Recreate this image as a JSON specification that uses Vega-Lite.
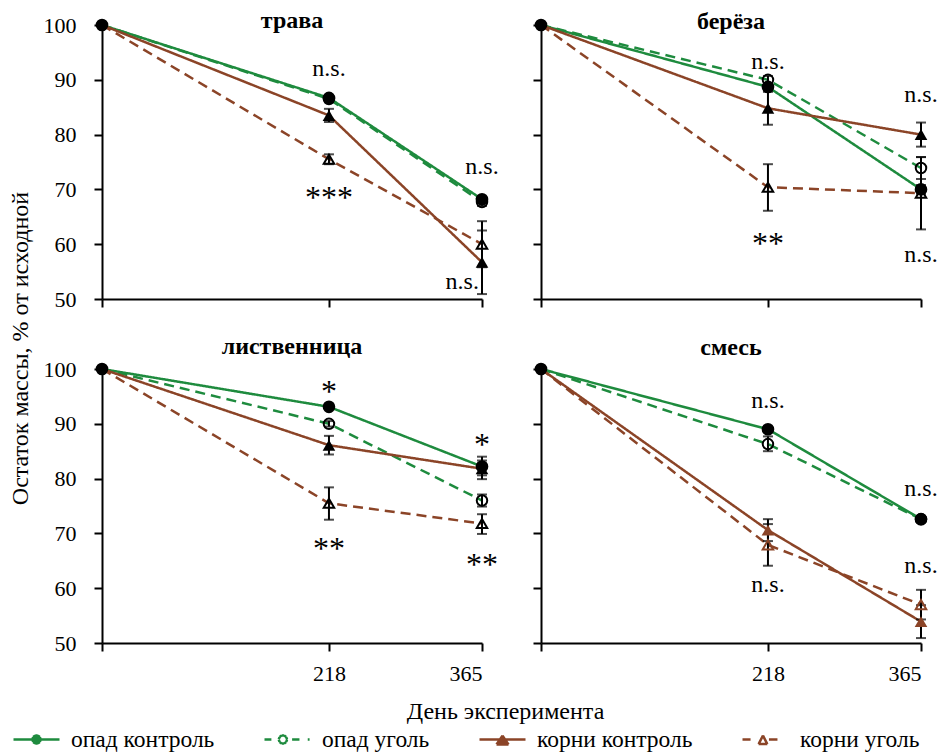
{
  "$schema": "https://vega.github.io/schema/vega-lite/v6.json",
  "autosize": {"type": "none"},
  "padding": {"left": 102, "top": 25, "right": 839, "bottom": 728},
  "background": "white",
  "bounds": "flush",
  "columns": 2,
  "spacing": {"row": 70, "column": 59},
  "datasets": {
    "series": [
      {"panel": "трава", "series": "опад контроль", "day": 0, "value": 100, "lo": null, "hi": null},
      {"panel": "трава", "series": "опад контроль", "day": 218, "value": 86.7, "lo": 86.4, "hi": 87.0},
      {"panel": "трава", "series": "опад контроль", "day": 365, "value": 68.2, "lo": 67.8, "hi": 68.6},
      {"panel": "трава", "series": "опад уголь", "day": 0, "value": 100, "lo": null, "hi": null},
      {"panel": "трава", "series": "опад уголь", "day": 218, "value": 86.5, "lo": 86.1, "hi": 86.9},
      {"panel": "трава", "series": "опад уголь", "day": 365, "value": 67.7, "lo": 67.0, "hi": 68.5},
      {"panel": "трава", "series": "корни контроль", "day": 0, "value": 100, "lo": null, "hi": null},
      {"panel": "трава", "series": "корни контроль", "day": 218, "value": 83.5, "lo": 82.3, "hi": 84.7},
      {"panel": "трава", "series": "корни контроль", "day": 365, "value": 56.7, "lo": 50.9, "hi": 62.5},
      {"panel": "трава", "series": "корни уголь", "day": 0, "value": 100, "lo": null, "hi": null},
      {"panel": "трава", "series": "корни уголь", "day": 218, "value": 75.5, "lo": 74.6, "hi": 76.4},
      {"panel": "трава", "series": "корни уголь", "day": 365, "value": 60.0, "lo": 55.8, "hi": 64.2},

      {"panel": "берёза", "series": "опад контроль", "day": 0, "value": 100, "lo": null, "hi": null},
      {"panel": "берёза", "series": "опад контроль", "day": 218, "value": 88.7, "lo": 88.2, "hi": 89.2},
      {"panel": "берёза", "series": "опад контроль", "day": 365, "value": 70.0, "lo": 69.2, "hi": 70.8},
      {"panel": "берёза", "series": "опад уголь", "day": 0, "value": 100, "lo": null, "hi": null},
      {"panel": "берёза", "series": "опад уголь", "day": 218, "value": 90.0, "lo": 89.3, "hi": 90.7},
      {"panel": "берёза", "series": "опад уголь", "day": 365, "value": 73.9, "lo": 71.9, "hi": 75.9},
      {"panel": "берёза", "series": "корни контроль", "day": 0, "value": 100, "lo": null, "hi": null},
      {"panel": "берёза", "series": "корни контроль", "day": 218, "value": 84.8, "lo": 81.8, "hi": 87.8},
      {"panel": "берёза", "series": "корни контроль", "day": 365, "value": 80.0, "lo": 77.8, "hi": 82.2},
      {"panel": "берёза", "series": "корни уголь", "day": 0, "value": 100, "lo": null, "hi": null},
      {"panel": "берёза", "series": "корни уголь", "day": 218, "value": 70.4, "lo": 66.1, "hi": 74.6},
      {"panel": "берёза", "series": "корни уголь", "day": 365, "value": 69.3, "lo": 62.7, "hi": 75.9},

      {"panel": "лиственница", "series": "опад контроль", "day": 0, "value": 100, "lo": null, "hi": null},
      {"panel": "лиственница", "series": "опад контроль", "day": 218, "value": 93.1, "lo": 92.7, "hi": 93.5},
      {"panel": "лиственница", "series": "опад контроль", "day": 365, "value": 82.2, "lo": 80.6, "hi": 84.0},
      {"panel": "лиственница", "series": "опад уголь", "day": 0, "value": 100, "lo": null, "hi": null},
      {"panel": "лиственница", "series": "опад уголь", "day": 218, "value": 90.0, "lo": 89.5, "hi": 90.5},
      {"panel": "лиственница", "series": "опад уголь", "day": 365, "value": 76.0, "lo": 74.9, "hi": 77.1},
      {"panel": "лиственница", "series": "корни контроль", "day": 0, "value": 100, "lo": null, "hi": null},
      {"panel": "лиственница", "series": "корни контроль", "day": 218, "value": 86.1, "lo": 84.4, "hi": 87.8},
      {"panel": "лиственница", "series": "корни контроль", "day": 365, "value": 81.8, "lo": 79.9, "hi": 83.3},
      {"panel": "лиственница", "series": "корни уголь", "day": 0, "value": 100, "lo": null, "hi": null},
      {"panel": "лиственница", "series": "корни уголь", "day": 218, "value": 75.5, "lo": 72.5, "hi": 78.4},
      {"panel": "лиственница", "series": "корни уголь", "day": 365, "value": 71.8, "lo": 69.9, "hi": 73.5},

      {"panel": "смесь", "series": "опад контроль", "day": 0, "value": 100, "lo": null, "hi": null},
      {"panel": "смесь", "series": "опад контроль", "day": 218, "value": 89.0, "lo": 88.8, "hi": 89.2},
      {"panel": "смесь", "series": "опад контроль", "day": 365, "value": 72.6, "lo": 72.4, "hi": 72.8},
      {"panel": "смесь", "series": "опад уголь", "day": 0, "value": 100, "lo": null, "hi": null},
      {"panel": "смесь", "series": "опад уголь", "day": 218, "value": 86.3, "lo": 85.0, "hi": 87.7},
      {"panel": "смесь", "series": "опад уголь", "day": 365, "value": 72.6, "lo": 72.3, "hi": 72.9},
      {"panel": "смесь", "series": "корни контроль", "day": 0, "value": 100, "lo": null, "hi": null},
      {"panel": "смесь", "series": "корни контроль", "day": 218, "value": 70.6, "lo": 68.6, "hi": 72.6},
      {"panel": "смесь", "series": "корни контроль", "day": 365, "value": 53.9, "lo": 50.9, "hi": 56.9},
      {"panel": "смесь", "series": "корни уголь", "day": 0, "value": 100, "lo": null, "hi": null},
      {"panel": "смесь", "series": "корни уголь", "day": 218, "value": 67.9, "lo": 64.1, "hi": 71.7},
      {"panel": "смесь", "series": "корни уголь", "day": 365, "value": 57.0, "lo": 54.3, "hi": 59.7}
    ],
    "notes": [
      {"panel": "трава", "day": 218, "value": 92.0, "label": "n.s."},
      {"panel": "трава", "day": 218, "value": 69.5, "label": "***"},
      {"panel": "трава", "day": 365, "value": 74.1, "label": "n.s."},
      {"panel": "трава", "day": 346, "value": 53.1, "label": "n.s."},
      {"panel": "берёза", "day": 218, "value": 93.3, "label": "n.s."},
      {"panel": "берёза", "day": 218, "value": 61.1, "label": "**"},
      {"panel": "берёза", "day": 365, "value": 87.2, "label": "n.s."},
      {"panel": "берёза", "day": 365, "value": 58.1, "label": "n.s."},
      {"panel": "лиственница", "day": 218, "value": 96.8, "label": "*"},
      {"panel": "лиственница", "day": 218, "value": 68.2, "label": "**"},
      {"panel": "лиственница", "day": 365, "value": 87.2, "label": "*"},
      {"panel": "лиственница", "day": 365, "value": 65.3, "label": "**"},
      {"panel": "смесь", "day": 218, "value": 94.2, "label": "n.s."},
      {"panel": "смесь", "day": 218, "value": 60.6, "label": "n.s."},
      {"panel": "смесь", "day": 365, "value": 78.1, "label": "n.s."},
      {"panel": "смесь", "day": 365, "value": 64.0, "label": "n.s."}
    ]
  },
  "concat": [
    {
      "width": 380, "height": 274,
      "title": {"text": "трава", "offset": -19},
      "data": {"name": "series"},
      "transform": [{"filter": "datum.panel === 'трава'"}],
      "encoding": {
        "x": {"field": "day", "type": "quantitative", "scale": {"domain": [0, 365], "nice": false}, "axis": {"values": [0, 218, 365], "labels": false, "title": null}},
        "y": {"field": "value", "type": "quantitative", "scale": {"domain": [50, 100], "nice": false}, "axis": {"values": [50, 60, 70, 80, 90, 100], "title": "Остаток массы, % от исходной", "titleX": -82, "titleY": 323, "titleAngle": -90, "titleAlign": "center", "titleBaseline": "middle"}}
      },
      "layer": [
        {"mark": {"type": "line", "strokeWidth": 2.5},
         "encoding": {
           "color": {"field": "series", "type": "nominal", "scale": {"domain": ["опад контроль", "опад уголь", "корни контроль", "корни уголь"], "range": ["#1e8b3e", "#1e8b3e", "#8b4427", "#8b4427"]},
             "legend": {"title": null, "orient": "none", "legendX": -90, "legendY": 690, "direction": "horizontal", "columns": 4, "columnPadding": 44, "symbolSize": 2116, "symbolStrokeWidth": 2.5, "labelOffset": 10, "labelFont": "Liberation Serif, Times New Roman, serif", "labelFontSize": 23.5, "labelColor": "black", "padding": 0}},
           "strokeDash": {"field": "series", "type": "nominal", "scale": {"domain": ["корни уголь", "корни контроль", "опад уголь", "опад контроль"], "range": [[10, 6], [1, 0], [10, 6], [1, 0]]}, "legend": null}
         }},
        {"transform": [{"filter": "datum.day > 0"}],
         "mark": {"type": "rule", "color": "black", "strokeWidth": 2},
         "encoding": {"y": {"field": "lo", "type": "quantitative", "title": "Остаток массы, % от исходной"}, "y2": {"field": "hi"}}},
        {"transform": [{"filter": "datum.day > 0"}, {"fold": ["lo", "hi"], "as": ["end", "value"]}],
         "mark": {"type": "tick", "orient": "horizontal", "color": "black", "size": 10, "thickness": 2}},
        {"transform": [{"filter": "datum.series === 'опад контроль'"}],
         "mark": {"type": "point", "shape": "circle", "filled": true, "opacity": 1, "size": 160, "strokeWidth": 0, "color": "black"}},
        {"transform": [{"filter": "datum.day > 0 && datum.series === 'корни контроль'"}],
         "mark": {"type": "point", "shape": "triangle-up", "filled": true, "opacity": 1, "size": 160, "strokeWidth": 0, "color": "black"}},
        {"transform": [{"filter": "datum.day > 0 && datum.series === 'опад уголь'"}],
         "mark": {"type": "point", "shape": "circle", "filled": false, "opacity": 1, "size": 110, "strokeWidth": 2, "color": "black"}},
        {"transform": [{"filter": "datum.day > 0 && datum.series === 'корни уголь'"}],
         "mark": {"type": "point", "shape": "triangle-up", "filled": false, "opacity": 1, "size": 110, "strokeWidth": 2, "color": "black"}},
        {"transform": [{"filter": "false"}],
         "mark": {"type": "point", "filled": false, "opacity": 1, "strokeWidth": 2.5},
         "encoding": {
           "color": {"field": "series", "type": "nominal", "scale": {"domain": ["опад контроль", "опад уголь", "корни контроль", "корни уголь"], "range": ["#1e8b3e", "#1e8b3e", "#8b4427", "#8b4427"]}},
           "shape": {"field": "series", "type": "nominal",
             "scale": {"domain": ["опад контроль", "опад уголь", "корни контроль", "корни уголь"],
                       "range": [
                         "M-1,0L1,0M0.18,0L0.146,0.106M0.146,0.106L0.056,0.171M0.056,0.171L-0.056,0.171M-0.056,0.171L-0.146,0.106M-0.146,0.106L-0.18,0M-0.18,0L-0.146,-0.106M-0.146,-0.106L-0.056,-0.171M-0.056,-0.171L0.056,-0.171M0.056,-0.171L0.146,-0.106M0.146,-0.106L0.18,0M-0.156,-0.09L0.156,-0.09M-0.156,0.09L0.156,0.09",
                         "M-1,0L-0.7,0M-0.02,0L-0.054,0.106M-0.054,0.106L-0.144,0.171M-0.144,0.171L-0.256,0.171M-0.256,0.171L-0.346,0.106M-0.346,0.106L-0.38,0M-0.38,0L-0.346,-0.106M-0.346,-0.106L-0.256,-0.171M-0.256,-0.171L-0.144,-0.171M-0.144,-0.171L-0.054,-0.106M-0.054,-0.106L-0.02,0M0.2,0L0.52,0M0.88,0L0.96,0",
                         "M-1,0L1,0M-0.26,0.22L0,-0.17M0,-0.17L0.26,0.22M0.26,0.22L-0.26,0.22M-0.2,0.165L0.2,0.165M-0.13,0.06L0.13,0.06M-0.06,-0.05L0.06,-0.05",
                         "M-1,0L-0.65,0M-0.3,0.2L-0.11,-0.17M-0.11,-0.17L0.08,0.2M0.08,0.2L-0.3,0.2M0.15,0L0.52,0"
                       ]}}
         }},
        {"data": {"name": "notes"}, "transform": [{"filter": "datum.panel === 'трава' && datum.label === 'n.s.'"}],
         "mark": {"type": "text", "font": "Liberation Serif, Times New Roman, serif", "fontSize": 24, "baseline": "middle", "align": "center", "color": "black"},
         "encoding": {"text": {"field": "label"}}},
        {"data": {"name": "notes"}, "transform": [{"filter": "datum.panel === 'трава' && datum.label !== 'n.s.'"}],
         "mark": {"type": "text", "font": "Liberation Serif, Times New Roman, serif", "fontSize": 32, "baseline": "middle", "align": "center", "color": "black", "dy": 5.5},
         "encoding": {"text": {"field": "label"}}}
      ]
    },
    {
      "width": 380, "height": 274,
      "title": {"text": "берёза", "offset": -15},
      "data": {"name": "series"},
      "transform": [{"filter": "datum.panel === 'берёза'"}],
      "encoding": {
        "x": {"field": "day", "type": "quantitative", "scale": {"domain": [0, 365], "nice": false}, "axis": {"values": [0, 218, 365], "labels": false, "title": null}},
        "y": {"field": "value", "type": "quantitative", "scale": {"domain": [50, 100], "nice": false}, "axis": {"values": [50, 60, 70, 80, 90, 100], "labels": false, "title": null}}
      },
      "layer": [
        {"mark": {"type": "line", "strokeWidth": 2.5},
         "encoding": {
           "color": {"field": "series", "type": "nominal", "scale": {"domain": ["опад контроль", "опад уголь", "корни контроль", "корни уголь"], "range": ["#1e8b3e", "#1e8b3e", "#8b4427", "#8b4427"]}},
           "strokeDash": {"field": "series", "type": "nominal", "scale": {"domain": ["корни уголь", "корни контроль", "опад уголь", "опад контроль"], "range": [[10, 6], [1, 0], [10, 6], [1, 0]]}, "legend": null}
         }},
        {"transform": [{"filter": "datum.day > 0"}],
         "mark": {"type": "rule", "color": "black", "strokeWidth": 2},
         "encoding": {"y": {"field": "lo", "type": "quantitative", "title": null}, "y2": {"field": "hi"}}},
        {"transform": [{"filter": "datum.day > 0"}, {"fold": ["lo", "hi"], "as": ["end", "value"]}],
         "mark": {"type": "tick", "orient": "horizontal", "color": "black", "size": 10, "thickness": 2}},
        {"transform": [{"filter": "datum.series === 'опад контроль'"}],
         "mark": {"type": "point", "shape": "circle", "filled": true, "opacity": 1, "size": 160, "strokeWidth": 0, "color": "black"}},
        {"transform": [{"filter": "datum.day > 0 && datum.series === 'корни контроль'"}],
         "mark": {"type": "point", "shape": "triangle-up", "filled": true, "opacity": 1, "size": 160, "strokeWidth": 0, "color": "black"}},
        {"transform": [{"filter": "datum.day > 0 && datum.series === 'опад уголь'"}],
         "mark": {"type": "point", "shape": "circle", "filled": false, "opacity": 1, "size": 110, "strokeWidth": 2, "color": "black"}},
        {"transform": [{"filter": "datum.day > 0 && datum.series === 'корни уголь'"}],
         "mark": {"type": "point", "shape": "triangle-up", "filled": false, "opacity": 1, "size": 110, "strokeWidth": 2, "color": "black"}},
        {"data": {"name": "notes"}, "transform": [{"filter": "datum.panel === 'берёза' && datum.label === 'n.s.'"}],
         "mark": {"type": "text", "font": "Liberation Serif, Times New Roman, serif", "fontSize": 24, "baseline": "middle", "align": "center", "color": "black"},
         "encoding": {"text": {"field": "label"}}},
        {"data": {"name": "notes"}, "transform": [{"filter": "datum.panel === 'берёза' && datum.label !== 'n.s.'"}],
         "mark": {"type": "text", "font": "Liberation Serif, Times New Roman, serif", "fontSize": 32, "baseline": "middle", "align": "center", "color": "black", "dy": 5.5},
         "encoding": {"text": {"field": "label"}}}
      ]
    },
    {
      "width": 380, "height": 274,
      "title": {"text": "лиственница", "offset": -1},
      "data": {"name": "series"},
      "transform": [{"filter": "datum.panel === 'лиственница'"}],
      "encoding": {
        "x": {"field": "day", "type": "quantitative", "scale": {"domain": [0, 365], "nice": false}, "axis": {"values": [0, 218, 365], "labelExpr": "datum.value === 0 ? '' : datum.label", "title": "День эксперимента", "titleX": 403, "titleY": 75, "titleAlign": "center", "titleBaseline": "alphabetic"}},
        "y": {"field": "value", "type": "quantitative", "scale": {"domain": [50, 100], "nice": false}, "axis": {"values": [50, 60, 70, 80, 90, 100], "title": null}}
      },
      "layer": [
        {"mark": {"type": "line", "strokeWidth": 2.5},
         "encoding": {
           "color": {"field": "series", "type": "nominal", "scale": {"domain": ["опад контроль", "опад уголь", "корни контроль", "корни уголь"], "range": ["#1e8b3e", "#1e8b3e", "#8b4427", "#8b4427"]}},
           "strokeDash": {"field": "series", "type": "nominal", "scale": {"domain": ["корни уголь", "корни контроль", "опад уголь", "опад контроль"], "range": [[10, 6], [1, 0], [10, 6], [1, 0]]}, "legend": null}
         }},
        {"transform": [{"filter": "datum.day > 0"}],
         "mark": {"type": "rule", "color": "black", "strokeWidth": 2},
         "encoding": {"y": {"field": "lo", "type": "quantitative", "title": null}, "y2": {"field": "hi"}}},
        {"transform": [{"filter": "datum.day > 0"}, {"fold": ["lo", "hi"], "as": ["end", "value"]}],
         "mark": {"type": "tick", "orient": "horizontal", "color": "black", "size": 10, "thickness": 2}},
        {"transform": [{"filter": "datum.series === 'опад контроль'"}],
         "mark": {"type": "point", "shape": "circle", "filled": true, "opacity": 1, "size": 160, "strokeWidth": 0, "color": "black"}},
        {"transform": [{"filter": "datum.day > 0 && datum.series === 'корни контроль'"}],
         "mark": {"type": "point", "shape": "triangle-up", "filled": true, "opacity": 1, "size": 160, "strokeWidth": 0, "color": "black"}},
        {"transform": [{"filter": "datum.day > 0 && datum.series === 'опад уголь'"}],
         "mark": {"type": "point", "shape": "circle", "filled": false, "opacity": 1, "size": 110, "strokeWidth": 2, "color": "black"}},
        {"transform": [{"filter": "datum.day > 0 && datum.series === 'корни уголь'"}],
         "mark": {"type": "point", "shape": "triangle-up", "filled": false, "opacity": 1, "size": 110, "strokeWidth": 2, "color": "black"}},
        {"data": {"name": "notes"}, "transform": [{"filter": "datum.panel === 'лиственница' && datum.label === 'n.s.'"}],
         "mark": {"type": "text", "font": "Liberation Serif, Times New Roman, serif", "fontSize": 24, "baseline": "middle", "align": "center", "color": "black"},
         "encoding": {"text": {"field": "label"}}},
        {"data": {"name": "notes"}, "transform": [{"filter": "datum.panel === 'лиственница' && datum.label !== 'n.s.'"}],
         "mark": {"type": "text", "font": "Liberation Serif, Times New Roman, serif", "fontSize": 32, "baseline": "middle", "align": "center", "color": "black", "dy": 5.5},
         "encoding": {"text": {"field": "label"}}}
      ]
    },
    {
      "width": 380, "height": 274,
      "title": {"text": "смесь", "offset": 3},
      "data": {"name": "series"},
      "transform": [{"filter": "datum.panel === 'смесь'"}],
      "encoding": {
        "x": {"field": "day", "type": "quantitative", "scale": {"domain": [0, 365], "nice": false}, "axis": {"values": [0, 218, 365], "labelExpr": "datum.value === 0 ? '' : datum.label", "title": null}},
        "y": {"field": "value", "type": "quantitative", "scale": {"domain": [50, 100], "nice": false}, "axis": {"values": [50, 60, 70, 80, 90, 100], "labels": false, "title": null}}
      },
      "layer": [
        {"mark": {"type": "line", "strokeWidth": 2.5},
         "encoding": {
           "color": {"field": "series", "type": "nominal", "scale": {"domain": ["опад контроль", "опад уголь", "корни контроль", "корни уголь"], "range": ["#1e8b3e", "#1e8b3e", "#8b4427", "#8b4427"]}},
           "strokeDash": {"field": "series", "type": "nominal", "scale": {"domain": ["корни уголь", "корни контроль", "опад уголь", "опад контроль"], "range": [[10, 6], [1, 0], [10, 6], [1, 0]]}, "legend": null}
         }},
        {"transform": [{"filter": "datum.day > 0"}],
         "mark": {"type": "rule", "color": "black", "strokeWidth": 2},
         "encoding": {"y": {"field": "lo", "type": "quantitative", "title": null}, "y2": {"field": "hi"}}},
        {"transform": [{"filter": "datum.day > 0"}, {"fold": ["lo", "hi"], "as": ["end", "value"]}],
         "mark": {"type": "tick", "orient": "horizontal", "color": "black", "size": 10, "thickness": 2}},
        {"transform": [{"filter": "datum.series === 'опад контроль'"}],
         "mark": {"type": "point", "shape": "circle", "filled": true, "opacity": 1, "size": 160, "strokeWidth": 0, "color": "black"}},
        {"transform": [{"filter": "datum.day > 0 && datum.series === 'корни контроль'"}],
         "mark": {"type": "point", "shape": "triangle-up", "filled": true, "opacity": 1, "size": 160, "strokeWidth": 0, "color": "#8b4427"}},
        {"transform": [{"filter": "datum.day > 0 && datum.series === 'опад уголь'"}],
         "mark": {"type": "point", "shape": "circle", "filled": false, "opacity": 1, "size": 110, "strokeWidth": 2, "color": "black"}},
        {"transform": [{"filter": "datum.day > 0 && datum.series === 'корни уголь'"}],
         "mark": {"type": "point", "shape": "triangle-up", "filled": false, "opacity": 1, "size": 110, "strokeWidth": 2, "color": "#8b4427"}},
        {"data": {"name": "notes"}, "transform": [{"filter": "datum.panel === 'смесь' && datum.label === 'n.s.'"}],
         "mark": {"type": "text", "font": "Liberation Serif, Times New Roman, serif", "fontSize": 24, "baseline": "middle", "align": "center", "color": "black"},
         "encoding": {"text": {"field": "label"}}},
        {"data": {"name": "notes"}, "transform": [{"filter": "datum.panel === 'смесь' && datum.label !== 'n.s.'"}],
         "mark": {"type": "text", "font": "Liberation Serif, Times New Roman, serif", "fontSize": 32, "baseline": "middle", "align": "center", "color": "black", "dy": 5.5},
         "encoding": {"text": {"field": "label"}}}
      ]
    }
  ],
  "config": {
    "view": {"stroke": null},
    "font": "Liberation Serif, Times New Roman, serif",
    "title": {"font": "Liberation Serif, Times New Roman, serif", "fontSize": 24, "fontWeight": "bold", "color": "black", "anchor": "middle", "frame": "group", "baseline": "alphabetic"},
    "axis": {"domainColor": "black", "domainWidth": 2, "tickColor": "black", "tickWidth": 2, "tickSize": 8, "grid": false, "labelFont": "Liberation Serif, Times New Roman, serif", "labelFontSize": 22, "labelColor": "black", "titleFont": "Liberation Serif, Times New Roman, serif", "titleFontSize": 24, "titleFontWeight": "normal", "titleColor": "black"},
    "axisX": {"labelPadding": 12},
    "axisY": {"labelPadding": 18}
  }
}
